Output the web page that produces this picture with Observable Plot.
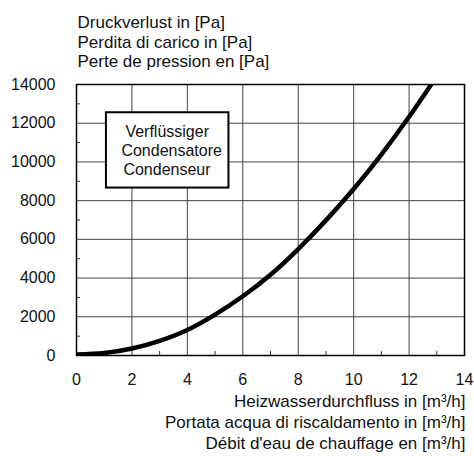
<!DOCTYPE html>
<html><head><meta charset="utf-8">
<script src="https://cdn.jsdelivr.net/npm/d3@7"></script>
<script src="https://cdn.jsdelivr.net/npm/@observablehq/plot@0.6"></script>
<style>html,body{margin:0;padding:0;background:#fff}</style>
</head><body><div id="chart"></div>
<script>
// Data
const flow = [0, 1, 2, 3, 4, 5, 6, 7, 8, 9, 10, 11, 12, 12.8];
const pressure = [50, 130, 360, 760, 1320, 2110, 3060, 4170, 5500, 6980, 8600, 10380, 12330, 14000];
const xTicks = [0, 2, 4, 6, 8, 10, 12, 14];
const xMinor = [1, 3, 5, 7, 9, 11, 13];
const yTicks = [0, 2000, 4000, 6000, 8000, 10000, 12000, 14000];
const yMinor = [1000, 3000, 5000, 7000, 9000, 11000, 13000];
const yTitle = ["Druckverlust in [Pa]", "Perdita di carico in [Pa]", "Perte de pression en [Pa]"];
const xTitle = ["Heizwasserdurchfluss in [m³/h]", "Portata acqua di riscaldamento in [m³/h]", "Débit d'eau de chauffage en [m³/h]"];
const legendLines = ["Verflüssiger", "Condensatore", "Condenseur"];
const legendIndent = [4, 0, 2];

const data = flow.map((f, i) => ({flow: f, pressure: pressure[i]}));

const chart = Plot.plot({
  width: 474,
  height: 456,
  marginLeft: 76,
  marginRight: 10,
  marginTop: 84,
  marginBottom: 101,
  style: {fontFamily: "'Liberation Sans', Arial, sans-serif", fontSize: "16px", color: "#111", background: "#fff"},
  x: {domain: [0, 14]},
  y: {domain: [0, 14000]},
  marks: [
    Plot.gridX(xTicks, {stroke: "#444", strokeOpacity: 1, strokeWidth: 1}),
    Plot.gridY(yTicks, {stroke: "#444", strokeOpacity: 1, strokeWidth: 1}),
    Plot.axisX(xMinor, {tickSize: -4, tickFormat: () => "", label: null, stroke: "#333"}),
    Plot.axisY(yMinor, {tickSize: -4, tickFormat: () => "", label: null, stroke: "#333"}),
    Plot.axisX(xTicks, {tickSize: 0, tickPadding: 18, label: null, fontSize: 16}),
    Plot.axisY(yTicks, {tickSize: 0, tickPadding: 21, label: null, fontSize: 16, tickFormat: d => String(d)}),
    Plot.frame({stroke: "#000", strokeWidth: 1.5}),
    Plot.line(data, {x: "flow", y: "pressure", curve: "natural", stroke: "#000", strokeWidth: 4.5, clip: true}),
    Plot.rect([{}], {x1: () => 1.08, x2: () => 5.5, y1: () => 8650, y2: () => 12540, fill: "#fff", stroke: "#000", strokeWidth: 2}),
    ...legendLines.map((line, i) =>
      Plot.text([line], {x: () => 1.62, y: () => 11900, dx: legendIndent[i], dy: i * 19, text: d => d, textAnchor: "start", lineAnchor: "top", fontSize: 16, fill: "#111"})
    ),
    Plot.text([yTitle.join("\n")], {frameAnchor: "top-left", dx: 1, dy: -70.5, text: d => d, textAnchor: "start", lineAnchor: "top", lineHeight: 1.16, fontSize: 17, fill: "#111"}),
    Plot.text([xTitle.join("\n")], {frameAnchor: "bottom-right", dx: 1, dy: 36, text: d => d, textAnchor: "end", lineAnchor: "top", lineHeight: 1.25, fontSize: 17, fill: "#111"})
  ]
});
document.getElementById("chart").appendChild(chart);
</script>
</body></html>
